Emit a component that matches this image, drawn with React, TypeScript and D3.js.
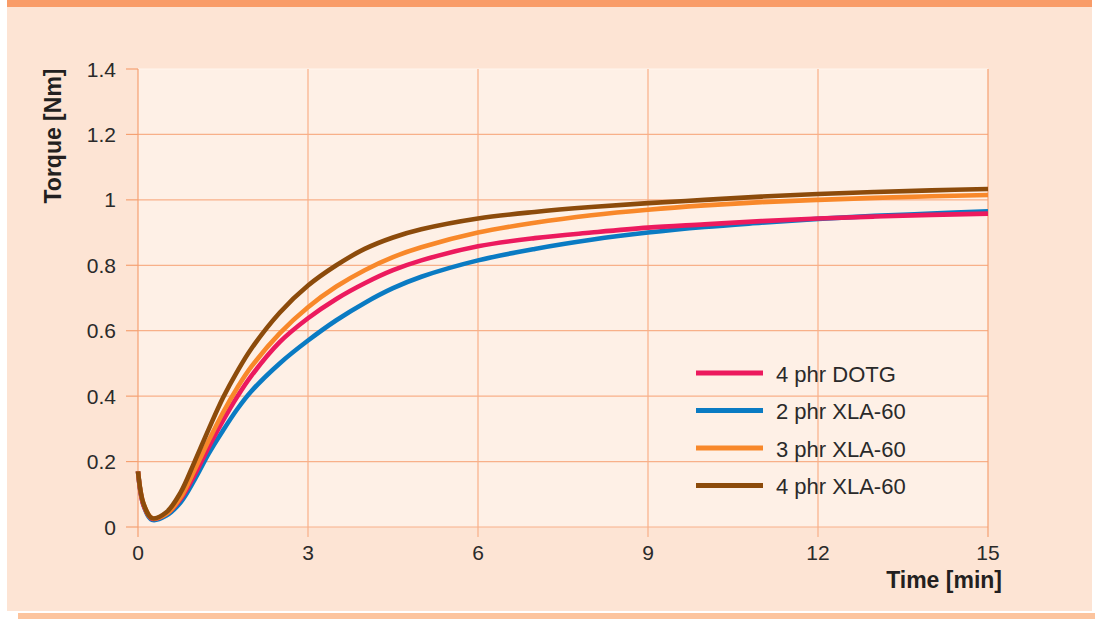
import React from 'react';
import * as d3 from 'd3';

const times = [0, 0.1, 0.25, 0.5, 0.75, 1, 1.25, 1.5, 1.75, 2, 2.5, 3, 3.5, 4, 4.5, 5, 6, 7, 8, 9, 10, 11, 12, 13, 14, 15];

const dotg4 = [0.17, 0.065, 0.025, 0.04, 0.085, 0.16, 0.245, 0.325, 0.398, 0.462, 0.565, 0.638, 0.697, 0.745, 0.785, 0.815, 0.858, 0.883, 0.9, 0.915, 0.925, 0.935, 0.943, 0.949, 0.954, 0.958];
const xla2 = [0.17, 0.065, 0.022, 0.035, 0.075, 0.145, 0.225, 0.295, 0.36, 0.415, 0.5, 0.57, 0.632, 0.685, 0.73, 0.765, 0.815, 0.85, 0.878, 0.9, 0.917, 0.93, 0.942, 0.951, 0.958, 0.965];
const xla3 = [0.17, 0.07, 0.027, 0.04, 0.09, 0.175, 0.265, 0.35, 0.425, 0.49, 0.592, 0.672, 0.735, 0.785, 0.825, 0.855, 0.9, 0.93, 0.953, 0.97, 0.983, 0.993, 1.0, 1.006, 1.011, 1.015];
const xla4 = [0.17, 0.07, 0.027, 0.045, 0.105, 0.2, 0.3, 0.395, 0.475, 0.545, 0.655, 0.738, 0.8, 0.85, 0.885, 0.91, 0.943, 0.963, 0.978, 0.99, 1.0, 1.01, 1.018, 1.024, 1.029, 1.033];

const seriesNames = ['4 phr DOTG', '2 phr XLA-60', '3 phr XLA-60', '4 phr XLA-60'];
const seriesColors = ['#ec1a5e', '#0a7bc3', '#f8882a', '#8c4b0b'];
const seriesValues = [dotg4, xla2, xla3, xla4];

const xTicks = [0, 3, 6, 9, 12, 15];
const yTicks = [0, 0.2, 0.4, 0.6, 0.8, 1, 1.2, 1.4];
const yTickLabels = ['0', '0.2', '0.4', '0.6', '0.8', '1', '1.2', '1.4'];

const font = '"Liberation Sans", Arial, Helvetica, sans-serif';
const gridColor = '#f8b089';
const axisColor = '#f5a172';

const App = () => {
  const x = d3.scaleLinear().domain([0, 15]).range([138, 988]);
  const y = d3.scaleLinear().domain([0, 1.4]).range([527, 69]);

  const line = d3
    .line<number>()
    .x((d, i) => x(times[i]))
    .y(d => y(d))
    .curve(d3.curveCatmullRom.alpha(0.5));

  // drawing order: blue under pink, brown on top
  const order = [1, 0, 2, 3];

  return (
    <svg
      width={1095}
      height={619}
      style={{ position: 'absolute', left: 0, top: 0, display: 'block', background: '#fff' }}
    >
      {/* panel */}
      <rect x={7} y={0} width={1085} height={611} fill="#fde4d4" />
      <rect x={7} y={0} width={1085} height={7} fill="#f99c68" />
      <rect x={18} y={613} width={1077} height={6} fill="#fcc49e" />

      {/* plot area */}
      <rect x={x(0)} y={y(1.4)} width={x(15) - x(0)} height={y(0) - y(1.4)} fill="#fef0e6" />

      {/* horizontal grid + y ticks */}
      {yTicks.map((t, i) => (
        <g key={'y' + i}>
          <line
            x1={x(0)}
            x2={x(15)}
            y1={y(t)}
            y2={y(t)}
            stroke={t === 1.4 ? '#fff6ee' : gridColor}
            strokeWidth={1.2}
          />
          <line x1={126} x2={x(0)} y1={y(t)} y2={y(t)} stroke={axisColor} strokeWidth={1.2} />
          <text
            x={116}
            y={y(t) + 7.5}
            textAnchor="end"
            fontFamily={font}
            fontSize={21}
            fill="#2a2a2a"
          >
            {yTickLabels[i]}
          </text>
        </g>
      ))}

      {/* vertical grid + x ticks */}
      {xTicks.map((t, i) => (
        <g key={'x' + i}>
          <line
            x1={x(t)}
            x2={x(t)}
            y1={y(1.4)}
            y2={537}
            stroke={t === 0 || t === 15 ? axisColor : gridColor}
            strokeWidth={1.2}
          />
          <text
            x={x(t)}
            y={560}
            textAnchor="middle"
            fontFamily={font}
            fontSize={21}
            fill="#2a2a2a"
          >
            {t}
          </text>
        </g>
      ))}

      {/* curves */}
      {order.map(k => (
        <path
          key={'s' + k}
          d={line(seriesValues[k]) || ''}
          fill="none"
          stroke={seriesColors[k]}
          strokeWidth={4.6}
          strokeLinejoin="round"
        />
      ))}

      {/* legend */}
      {seriesNames.map((name, i) => (
        <g key={'l' + i} transform={`translate(696, ${373 + i * 37.5})`}>
          <line x1={0} x2={67} y1={0} y2={0} stroke={seriesColors[i]} strokeWidth={5} />
          <text x={80} y={8.5} fontFamily={font} fontSize={22} fill="#2a2a2a">
            {name}
          </text>
        </g>
      ))}

      {/* axis titles */}
      <text
        transform="translate(61, 136) rotate(-90)"
        textAnchor="middle"
        fontFamily={font}
        fontSize={23}
        fontWeight="bold"
        fill="#231f20"
      >
        Torque [Nm]
      </text>
      <text
        x={1002}
        y={588}
        textAnchor="end"
        fontFamily={font}
        fontSize={23}
        fontWeight="bold"
        fill="#231f20"
      >
        Time [min]
      </text>
    </svg>
  );
};

export default App;
